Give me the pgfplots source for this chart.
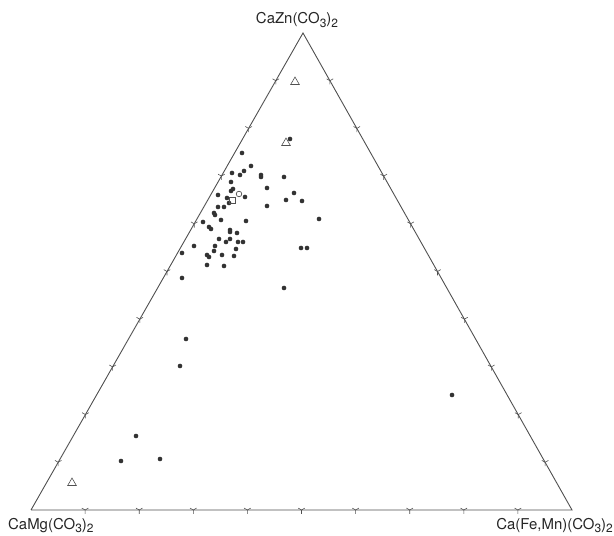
\documentclass[border=0pt]{standalone}
\usepackage{pgfplots}
\pgfplotsset{compat=1.18}
\usepackage{fontspec}
\setmainfont{TeX Gyre Heros}
\definecolor{ink}{RGB}{80,80,80}
\newcommand{\sub}[1]{\raisebox{-0.4ex}{\fontsize{12}{12}\selectfont #1}}
\begin{document}
\begin{tikzpicture}
\begin{axis}[
  width=614bp, height=536bp, scale only axis,
  xmin=0, xmax=614, ymin=0, ymax=536,
  hide axis, clip=false,
]
% invisible frame for the bounding box
\addplot[draw=none] coordinates {(0,0) (614,536)};
% triangle
\addplot[ink, line width=0.9pt] coordinates {(31,26) (572,26) (303,503) (31,26)};
% tick marks
\addplot[only marks, ink, mark=Mercedes star flipped, mark size=3.8pt, mark options={line width=0.6pt}] coordinates {
(85.1,26) (139.2,26) (193.3,26) (247.4,26) (301.5,26) (355.6,26) (409.7,26) (463.8,26) (517.9,26)};
\addplot[only marks, ink, mark=Mercedes star flipped, mark size=3.8pt, mark options={line width=0.6pt, rotate=-120}] coordinates {
(58.2,73.7) (85.4,121.4) (112.6,169.1) (139.8,216.8) (167,264.5) (194.2,312.2) (221.4,359.9) (248.6,407.6) (275.8,455.3)};
\addplot[only marks, ink, mark=Mercedes star flipped, mark size=3.8pt, mark options={line width=0.6pt, rotate=120}] coordinates {
(545.1,73.7) (518.2,121.4) (491.3,169.1) (464.4,216.8) (437.5,264.5) (410.6,312.2) (383.7,359.9) (356.8,407.6) (329.9,455.3)};
% samples (dots)
\addplot[only marks, mark=*, mark size=2.1pt, color=black!80] table {
x y
242 383
251 370
232 363
244 365
240 361
261 361
261 359
284 359
231 354
267 348
233 347
231 345
218 341
245 339
227 338
229 333
294 343
286 336
302 335
267 330
218 329
224 329
214 323
215 321
221 316
246 315
319 317
203 314
209 309
211 307
230 306
230 304
237 303
219 297
226 294
230 297
238 294
243 294
194 290
215 290
214 285
236 287
182 283
207 281
209 279
222 281
234 280
207 271
224 270
182 258
301 288
307 288
284 248
290 397
186 197
180 170
136 100
121 75
160 77
452 141
};
% open triangles
\addplot[only marks, mark=triangle, mark size=5pt, ink, mark options={line width=0.6pt}] coordinates {(295,454) (286,393) (72,53)};
% open circle
\addplot[only marks, mark=o, mark size=2.8pt, ink, mark options={line width=0.7pt}] coordinates {(239,342)};
% open square
\addplot[only marks, mark=square, mark size=3pt, ink, mark options={line width=0.7pt}] coordinates {(232,336)};
% vertex labels
\node[anchor=base, font=\fontsize{15}{15}\selectfont, text=black!85] at (axis cs:297,512) {CaZn(CO\sub{3})\sub{2}};
\node[anchor=base west, font=\fontsize{15}{15}\selectfont, text=black!85, inner sep=0pt] at (axis cs:8,7) {CaMg(CO\sub{3})\sub{2}};
\node[anchor=base east, font=\fontsize{15}{15}\selectfont, text=black!85, inner sep=0pt] at (axis cs:613,7) {Ca(Fe,Mn)(CO\sub{3})\sub{2}};
\end{axis}
\end{tikzpicture}
\end{document}
